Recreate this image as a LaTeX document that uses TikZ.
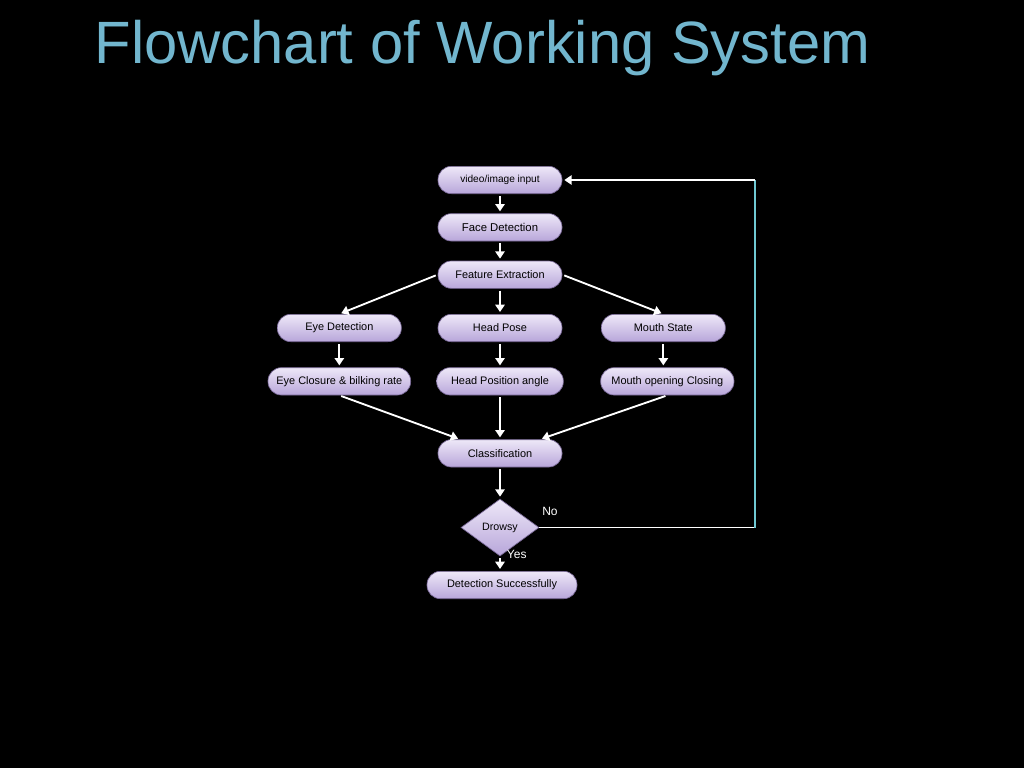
\documentclass[tikz,border=0pt]{standalone}
\usepackage{fontspec}
\setmainfont{Liberation Sans}
\usetikzlibrary{positioning, arrows.meta, shapes.geometric}

\definecolor{titleblue}{RGB}{114,182,206}
\definecolor{boxtop}{RGB}{238,232,248}
\definecolor{boxbot}{RGB}{184,166,218}
\definecolor{boxline}{RGB}{120,104,150}
\definecolor{loopcyan}{RGB}{110,200,210}

\begin{document}
\begin{tikzpicture}[
   x=0.75pt, y=-0.75pt,
   box/.style={draw=boxline, line width=0.5pt, rounded corners=10pt, align=center,
         top color=boxtop, bottom color=boxbot, text=black,
         minimum height=20.5pt, minimum width=93pt, inner xsep=3pt,
         font=\fontsize{8.2}{9}\selectfont},
   decision/.style={diamond, draw=boxline, line width=0.5pt, top color=boxtop,
         bottom color=boxbot, minimum width=58.5pt, minimum height=42.75pt,
         inner sep=0pt, font=\fontsize{8}{9}\selectfont},
   lbl/.style={text=white, inner sep=0pt, font=\fontsize{9}{10}\selectfont},
   arr/.style={-{Triangle[length=5.5pt, width=7pt]}, draw=white, line width=1.4pt,
         shorten <=1.5pt, shorten >=1.5pt},
   loopline/.style={draw=white, line width=1.4pt},
  ]
  \fill[black] (0,0) rectangle (1024,768);

  \node[text=titleblue, anchor=base west, font=\fontsize{44.8}{50}\selectfont]
    (title) at (90,63) {Flowchart of Working System};

  \node[box, font=\fontsize{7.6}{9}\selectfont] (input) at (500,180) {video/image input};
  \node[box, below=14.5pt of input, font=\fontsize{8.5}{9}\selectfont] (face) {Face Detection};
  \node[box, below=14.5pt of face] (feat) {Feature Extraction};

  \node[box, below=19pt of feat] (head) {Head Pose};
  \node[box, left=27pt of head] (eye) {Eye Detection};
  \node[box, right=29pt of head] (mouth) {Mouth State};

  \node[box, below=19pt of eye, minimum width=107pt] (closure) {Eye Closure \& bilking rate};
  \node[box, below=19pt of head, minimum width=95pt] (headpos) {Head Position angle};
  \node[box, below=19pt of mouth, xshift=3pt, minimum width=100pt] (mouthopen) {Mouth opening Closing};

  \node[box, below=33pt of headpos] (class) {Classification};
  \node[decision, below=23.5pt of class] (drowsy) {Drowsy};
  \node[box, below=11pt of drowsy, xshift=1.5pt, minimum width=112.5pt] (detect) {Detection Successfully};

  \node[lbl, above right=9pt and 2pt of drowsy.east] (no) {No};
  \node[lbl, right=5pt of drowsy.south, yshift=1.5pt] (yes) {Yes};

  \coordinate (looptop) at (755,180);
  \coordinate (loopbot) at (drowsy.east -| looptop);

  \draw[arr] (input) -- (face);
  \draw[arr] (face) -- (feat);
  \draw[arr] (feat.west) -- (eye.north);
  \draw[arr] (feat) -- (head);
  \draw[arr] (feat.east) -- (mouth.north);
  \draw[arr] (eye) -- (closure);
  \draw[arr] (head) -- (headpos);
  \draw[arr] (mouth.south) -- (mouth.south |- mouthopen.north);
  \draw[arr] (closure.south) -- ([xshift=-30pt]class.north);
  \draw[arr] (headpos.south) -- (headpos.south |- class.north);
  \draw[arr] (mouthopen.south) -- ([xshift=30pt]class.north);
  \draw[arr] (class) -- (drowsy);
  \draw[arr] (drowsy) -- (drowsy.south |- detect.north);

  % back to the input when not drowsy
  \draw[loopline] (drowsy.east) -- (loopbot);
  \draw[loopline, draw=loopcyan] (loopbot) -- (looptop);
  \draw[arr, shorten <=0pt] (looptop) -- (input.east);
 \end{tikzpicture}
\end{document}
